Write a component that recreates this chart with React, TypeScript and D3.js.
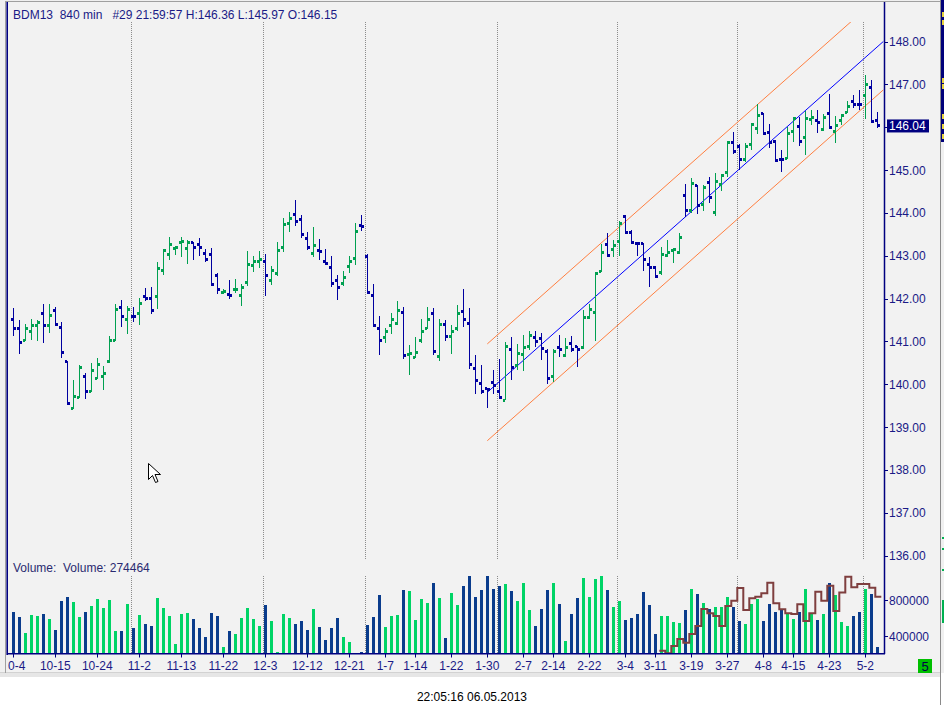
import React, { useEffect, useRef } from "react";
import * as d3 from "d3";

const width = 944;
const height = 715;

// OHLC, one bar per 840 minutes (index 0 = 10-4)
const opens = [
  141.52, 141.29, 141.03, 141.24, 141.36, 141.64, 141.38, 141.71, 141.33, 140.52,
  139.44, 139.7, 140.19, 139.84, 140.14, 140.17, 140.52, 141.03, 141.78, 141.52,
  141.59, 141.64, 142.04, 142.01, 142.04, 142.66, 143.02, 143.16, 143.3, 143.16,
  143.3, 143.27, 143.06, 143.02, 142.53, 142.15, 142.1, 142.2, 142.08, 142.37,
  142.76, 142.86, 142.86, 142.43, 142.58, 143.18, 143.74, 143.95, 143.84, 143.39,
  143.04, 143.12, 142.86, 142.72, 142.41, 142.34, 142.74, 142.93, 143.7, 142.99,
  142.06, 141.31, 141.1, 141.36, 141.41, 141.67, 140.69, 140.62, 141.01, 141.29,
  141.64, 140.64, 141.39, 141.11, 141.31, 141.69, 141.41, 140.36, 140.02, 139.89,
  140.03, 139.83, 139.63, 140.81, 140.44, 140.69, 140.88, 141.09, 141.07, 140.76,
  140.17, 140.86, 140.67, 140.96, 140.88, 140.85, 141.55, 141.67, 142.64, 143.26,
  143.14, 143.32, 143.91, 143.53, 143.29, 143.28, 142.79, 142.72, 142.6, 143.0,
  143.11, 143.08, 144.41, 144.05, 144.63, 144.19, 144.7, 144.0, 144.65, 144.93,
  145.65, 145.56, 145.25, 145.6, 145.96, 146.32, 145.88, 145.67, 145.25, 145.28,
  145.91, 146.02, 145.76, 146.19, 146.15, 145.95, 146.33, 145.91, 146.16, 146.35,
  146.59, 146.54, 146.74, 146.92, 146.15,
];
const highs = [
  141.77, 141.5, 141.41, 141.53, 141.5, 141.88, 141.88, 141.81, 141.44, 140.55,
  140.1, 140.45, 140.27, 140.49, 140.62, 140.43, 141.13, 141.86, 141.97, 141.82,
  141.81, 142.02, 142.25, 142.28, 142.86, 143.14, 143.44, 143.23, 143.44, 143.37,
  143.33, 143.41, 143.16, 143.19, 142.6, 142.23, 142.44, 142.46, 142.33, 143.12,
  142.99, 143.1, 143.03, 142.77, 143.33, 143.89, 144.02, 144.31, 143.94, 143.56,
  143.68, 143.39, 143.16, 142.99, 142.55, 142.65, 142.99, 143.77, 143.96, 143.04,
  142.33, 141.58, 141.32, 141.67, 141.93, 141.81, 140.92, 141.09, 141.53, 141.79,
  141.77, 141.53, 141.49, 141.37, 141.84, 142.23, 141.77, 140.69, 140.44, 139.91,
  140.32, 140.59, 140.98, 141.1, 140.93, 141.15, 141.25, 141.23, 141.19, 140.83,
  140.83, 141.14, 141.08, 141.13, 140.9, 141.74, 141.88, 142.6, 143.28, 143.52,
  143.37, 143.82, 143.95, 143.59, 143.31, 143.29, 142.98, 142.77, 143.21, 143.37,
  143.16, 143.53, 144.68, 144.82, 144.66, 144.66, 144.83, 144.93, 144.89, 145.65,
  145.88, 145.61, 145.63, 146.09, 146.54, 146.33, 146.08, 145.69, 145.47, 146.0,
  146.22, 146.23, 146.37, 146.39, 146.39, 146.31, 146.78, 146.27, 146.3, 146.61,
  146.75, 146.87, 147.21, 147.09, 146.36,
];
const lows = [
  141.12, 140.7, 141.0, 141.02, 141.0, 140.95, 141.19, 141.38, 140.6, 139.52,
  139.41, 139.68, 139.65, 139.82, 140.12, 139.86, 140.5, 141.01, 141.33, 141.16,
  141.44, 141.37, 141.93, 141.63, 141.75, 142.54, 142.91, 143.01, 142.96, 142.8,
  142.89, 142.99, 142.85, 142.3, 142.1, 142.1, 141.99, 142.12, 141.82, 142.3,
  142.61, 142.71, 142.05, 142.31, 142.52, 143.08, 143.56, 143.69, 143.41, 143.14,
  142.98, 142.89, 142.79, 142.26, 141.96, 142.3, 142.59, 142.79, 143.57, 142.11,
  141.34, 140.68, 140.95, 141.17, 141.38, 140.58, 140.21, 140.6, 140.97, 141.28,
  140.68, 140.54, 141.0, 140.7, 141.25, 141.33, 140.35, 139.77, 139.77, 139.45,
  139.76, 139.68, 139.62, 140.09, 140.32, 140.3, 140.79, 140.86, 140.57, 140.01,
  140.05, 140.63, 140.63, 140.75, 140.4, 140.83, 141.52, 141.0, 142.62, 142.98,
  142.98, 143.0, 143.51, 143.28, 143.0, 142.65, 142.28, 142.48, 142.56, 142.96,
  142.82, 143.04, 143.9, 143.99, 143.98, 144.05, 144.23, 143.93, 144.52, 144.83,
  145.38, 144.99, 145.18, 145.46, 145.83, 145.83, 145.52, 145.21, 144.95, 145.26,
  145.65, 145.56, 145.36, 146.06, 145.86, 145.92, 145.98, 145.63, 146.04, 146.33,
  146.44, 146.39, 146.19, 146.12, 145.97,
];
const closes = [
  141.31, 140.98, 141.31, 141.38, 141.45, 141.38, 141.61, 141.4, 140.75, 139.54,
  139.72, 140.4, 139.82, 140.33, 140.47, 140.26, 141.01, 141.75, 141.59, 141.75,
  141.57, 141.89, 142.01, 141.73, 142.69, 143.11, 143.25, 143.18, 143.32, 143.3,
  143.18, 143.2, 142.92, 142.32, 142.22, 142.17, 142.08, 142.22, 142.25, 142.79,
  142.86, 142.9, 142.53, 142.65, 143.11, 143.72, 143.86, 143.79, 143.49, 143.18,
  143.23, 143.1, 142.81, 142.34, 142.25, 142.48, 142.86, 143.56, 143.67, 142.13,
  141.36, 141.03, 141.24, 141.52, 141.71, 140.66, 140.72, 140.74, 141.22, 141.52,
  140.76, 141.39, 141.11, 141.24, 141.64, 141.5, 140.45, 140.08, 139.84, 139.87,
  139.98, 139.7, 140.88, 140.4, 140.72, 140.86, 141.14, 140.99, 140.83, 140.13,
  140.77, 140.81, 140.86, 140.81, 140.82, 141.56, 141.74, 142.58, 143.07, 143.0,
  143.24, 143.74, 143.53, 143.3, 143.28, 142.91, 142.72, 142.51, 143.02, 143.08,
  143.14, 143.42, 144.05, 144.68, 144.16, 144.59, 144.36, 144.73, 144.86, 145.64,
  145.44, 145.25, 145.56, 146.06, 146.27, 145.86, 145.64, 145.22, 145.24, 145.86,
  146.2, 145.67, 146.21, 146.22, 146.1, 146.22, 146.0, 146.05, 146.27, 146.48,
  146.53, 146.52, 146.99, 146.13, 146.04,
];

const volumes = [
  670000, 615000, 437000, 633000, 626000, 648000, 589000, 467000, 789000, 833000,
  782000, 615000, 670000, 737000, 811000, 715000, 804000, 459000, 459000, 756000,
  493000, 633000, 537000, 511000, 826000, 715000, 626000, 311000, 648000, 659000,
  593000, 493000, 393000, 659000, 626000, 281000, 459000, 426000, 604000, 715000,
  593000, 515000, 748000, 570000, 226000, 648000, 604000, 537000, 570000, 470000,
  704000, 504000, 356000, 489000, 600000, 389000, 337000, 211000, 226000, 522000,
  611000, 859000, 500000, 622000, 637000, 911000, 900000, 578000, 811000, 767000,
  989000, 822000, 378000, 878000, 744000, 959000, 1067000, 833000, 911000, 1067000,
  922000, 956000, 978000, 900000, 789000, 989000, 689000, 511000, 700000, 911000,
  989000, 756000, 344000, 644000, 822000, 1044000, 833000, 1033000, 1067000, 911000,
  722000, 789000, 578000, 600000, 644000, 889000, 744000, 422000, 622000, 622000,
  556000, 544000, 689000, 922000, 867000, 763000, 696000, 722000, 722000, 833000,
  722000, 567000, 533000, 756000, 811000, 567000, 756000, 667000, 689000, 652000,
  589000, 667000, 922000, 656000, 578000, 644000, 989000, 859000, 556000, 511000,
  622000, 667000, 922000, 867000, 278000,
];

// brown step line in the volume pane, starts at bar 108
const oiStart = 108;
const openInterest = [
  237000, 207000, 289000, 367000, 326000, 422000, 511000, 700000, 652000, 622000,
  511000, 733000, 793000, 933000, 689000, 819000, 837000, 874000, 993000, 763000,
  696000, 652000, 644000, 752000, 567000, 652000, 893000, 793000, 959000, 678000,
  882000, 1059000, 941000, 978000, 978000, 937000, 837000,
];

const dateTicks = [0, 7, 14, 21, 28, 35, 42, 49, 56, 62, 67, 73, 79, 85, 90, 96, 102, 107, 113, 119, 125, 130, 136, 142];
const dateLabels = [
  "10-4", "10-15", "10-24", "11-2", "11-13", "11-22", "12-3", "12-12", "12-21", "1-7", "1-14", "1-22",
  "1-30", "2-7", "2-14", "2-22", "3-4", "3-11", "3-19", "3-27", "4-8", "4-15", "4-23", "5-2",
];
const monthBreaks = [19, 41, 58, 80, 100, 120, 141];
const priceTicks = [136, 137, 138, 139, 140, 141, 142, 143, 144, 145, 146, 147, 148];
const volumeTicks = [400000, 800000];

// regression channel
const channelStart = 79;
const channelEnd = 145;
const channelFrom = 139.81;
const channelTo = 148.0;
const channelWidth = 1.13;

const lastPrice = 146.04;
const header = "BDM13  840 min   #29 21:59:57 H:146.36 L:145.97 O:146.15";
const volumeTitle = "Volume:  Volume: 274464";
const timestamp = "22:05:16 06.05.2013";

const font = "'Liberation Sans', Arial, sans-serif";
const navy = "#1a1a86";

export const Chart = () => {
  const ref = useRef<SVGSVGElement>(null);

  useEffect(() => {
    const svg = d3.select(ref.current);
    svg.selectAll("*").remove();

    const x = d3.scaleLinear().domain([0, 145]).range([13.3, 883.3]);
    const y = d3.scaleLinear().domain([136, 148]).range([555.5, 41.5]);
    const yv = d3.scaleLinear().domain([200000, 1100000]).range([654, 573]);

    const defs = svg.append("defs");
    defs.append("clipPath").attr("id", "priceClip")
      .append("rect").attr("x", 8).attr("y", 22).attr("width", 876).attr("height", 538);
    defs.append("clipPath").attr("id", "volClip")
      .append("rect").attr("x", 8).attr("y", 570).attr("width", 876).attr("height", 84);
    defs.append("clipPath").attr("id", "axisClip")
      .append("rect").attr("x", 8).attr("y", 654).attr("width", 880).attr("height", 20);

    // backgrounds and frame
    svg.append("rect").attr("width", width).attr("height", height).attr("fill", "#ffffff");
    svg.append("rect").attr("width", width).attr("height", 673).attr("fill", "#f0f0f0");
    svg.append("rect").attr("x", 8).attr("y", 2).attr("width", 932).attr("height", 671).attr("fill", "#f2f2f2");
    svg.append("rect").attr("x", 0).attr("y", 673).attr("width", 940).attr("height", 4).attr("fill", "#e6e6e6");
    svg.append("line").attr("x1", 0).attr("x2", 940).attr("y1", 672.5).attr("y2", 672.5)
      .attr("stroke", "#d2d2d2");
    svg.append("line").attr("x1", 5).attr("x2", 940).attr("y1", 1.5).attr("y2", 1.5)
      .attr("stroke", "#a0a0a0");
    svg.append("line").attr("x1", 5.5).attr("x2", 5.5).attr("y1", 1).attr("y2", 673)
      .attr("stroke", "#a0a0a0");
    svg.append("line").attr("x1", 7.2).attr("x2", 7.2).attr("y1", 2).attr("y2", 655)
      .attr("stroke", "#000080").attr("stroke-width", 1.6);

    // neighbour window strip on the right edge
    svg.append("line").attr("x1", 940.5).attr("x2", 940.5).attr("y1", 0).attr("y2", 705)
      .attr("stroke", "#8a8a8a");
    svg.append("rect").attr("x", 941).attr("y", 0).attr("width", 3).attr("height", 142).attr("fill", "#00007a");
    [12, 20, 78, 84, 114, 124, 134].forEach((v) =>
      svg.append("rect").attr("x", 942).attr("y", v).attr("width", 2).attr("height", 5).attr("fill", "#e6d23c")
    );
    [537, 548, 569].forEach((v) =>
      svg.append("rect").attr("x", 942).attr("y", v).attr("width", 2).attr("height", 2).attr("fill", "#00b050")
    );
    svg.append("rect").attr("x", 942).attr("y", 600).attr("width", 2).attr("height", 23).attr("fill", "#00b050");

    // month separators
    const sep = svg.append("g").attr("stroke", "#8c8c8c").attr("stroke-dasharray", "1,1");
    monthBreaks.forEach((b) => {
      const px = Math.round(x(b) + 4) + 0.5;
      sep.append("line").attr("x1", px).attr("x2", px).attr("y1", 22).attr("y2", 559);
      sep.append("line").attr("x1", px).attr("x2", px).attr("y1", 576).attr("y2", 653);
    });

    // channel lines
    const line = d3.line<[number, number]>().x((d) => x(d[0])).y((d) => y(d[1]));
    const chan = svg.append("g").attr("clip-path", "url(#priceClip)").attr("fill", "none");
    chan.append("path")
      .datum([[channelStart, channelFrom + channelWidth], [channelEnd, channelTo + channelWidth]] as [number, number][])
      .attr("d", line).attr("stroke", "#ff7f40");
    chan.append("path")
      .datum([[channelStart, channelFrom - channelWidth], [channelEnd, channelTo - channelWidth]] as [number, number][])
      .attr("d", line).attr("stroke", "#ff7f40");
    chan.append("path")
      .datum([[channelStart, channelFrom], [channelEnd, channelTo]] as [number, number][])
      .attr("d", line).attr("stroke", "#0000ff");

    // OHLC bars
    const bars = svg.append("g").attr("clip-path", "url(#priceClip)").attr("shape-rendering", "crispEdges");
    closes.forEach((c, i) => {
      const o = opens[i];
      const col = c >= o ? "#00a050" : "#0000a0";
      const cx = x(i);
      bars.append("rect").attr("x", cx - 0.8).attr("width", 1.7)
        .attr("y", y(highs[i])).attr("height", Math.max(1, y(lows[i]) - y(highs[i]))).attr("fill", col);
      bars.append("rect").attr("x", cx - 2.7).attr("width", 2.7)
        .attr("y", y(o) - 1.5).attr("height", 3).attr("fill", col);
      bars.append("rect").attr("x", cx).attr("width", 2.7)
        .attr("y", y(c) - 1.5).attr("height", 3).attr("fill", col);
    });

    // volume
    const vol = svg.append("g").attr("clip-path", "url(#volClip)").attr("shape-rendering", "crispEdges");
    volumes.forEach((v, i) => {
      vol.append("rect")
        .attr("x", x(i) - 1.5).attr("width", 3)
        .attr("y", yv(v)).attr("height", yv.range()[0] - yv(v))
        .attr("fill", closes[i] >= opens[i] ? "#00d466" : "#0a3c8c");
    });

    const oiPts: [number, number][] = [];
    openInterest.forEach((v, k) => {
      const cx = x(oiStart + k);
      oiPts.push([cx - 2, yv(v)], [cx + 4, yv(v)]);
    });
    svg.append("path")
      .datum(oiPts)
      .attr("clip-path", "url(#volClip)")
      .attr("d", d3.line().curve(d3.curveStepBefore))
      .attr("fill", "none")
      .attr("stroke", "#7f3f3f")
      .attr("stroke-width", 2);

    // right axis
    svg.append("line").attr("x1", 884.5).attr("x2", 884.5).attr("y1", 2).attr("y2", 654)
      .attr("stroke", "#000080").attr("stroke-width", 1.5);
    const ra = svg.append("g").attr("font-family", font).attr("font-size", 12).attr("fill", navy);
    priceTicks.forEach((p) => {
      ra.append("line").attr("x1", 885).attr("x2", 888).attr("y1", Math.round(y(p)) + 0.5).attr("y2", Math.round(y(p)) + 0.5)
        .attr("stroke", "#000080");
      ra.append("text").attr("x", 889).attr("y", y(p) + 4.5).text(d3.format(".2f")(p));
    });
    volumeTicks.forEach((v) => {
      ra.append("line").attr("x1", 885).attr("x2", 888).attr("y1", Math.round(yv(v)) + 0.5).attr("y2", Math.round(yv(v)) + 0.5)
        .attr("stroke", "#000080");
      ra.append("text").attr("x", 889).attr("y", yv(v) + 4.5).text(v);
    });
    svg.append("rect").attr("x", 887).attr("y", y(lastPrice) - 6).attr("width", 42).attr("height", 13)
      .attr("fill", "#000080");
    svg.append("text").attr("x", 889).attr("y", y(lastPrice) + 5).attr("font-family", font)
      .attr("font-size", 12).attr("fill", "#ffffff").text(d3.format(".2f")(lastPrice));

    // bottom axis
    svg.append("line").attr("x1", 8).attr("x2", 885).attr("y1", 653.8).attr("y2", 653.8)
      .attr("stroke", "#000080").attr("stroke-width", 1.5);
    const ba = svg.append("g").attr("clip-path", "url(#axisClip)").attr("font-family", font)
      .attr("font-size", 12).attr("fill", navy).attr("text-anchor", "middle");
    dateTicks.forEach((t, k) => {
      const px = Math.round(x(t)) + 0.5;
      ba.append("line").attr("x1", px).attr("x2", px).attr("y1", 654).attr("y2", 657.5).attr("stroke", "#000080");
      ba.append("text").attr("x", x(t)).attr("y", 670).text(dateLabels[k]);
    });

    // texts
    svg.append("text").attr("x", 13).attr("y", 19).attr("font-family", font).attr("font-size", 12)
      .attr("fill", navy).style("white-space", "pre").text(header);
    svg.append("text").attr("x", 13).attr("y", 572).attr("font-family", font).attr("font-size", 12)
      .attr("fill", "#2a2a70").style("white-space", "pre").text(volumeTitle);
    svg.append("rect").attr("x", 918).attr("y", 659).attr("width", 14).attr("height", 14).attr("fill", "#00c000");
    svg.append("text").attr("x", 925).attr("y", 671).attr("text-anchor", "middle").attr("font-family", font)
      .attr("font-size", 13).attr("fill", "#00004a").text("5");
    svg.append("text").attr("x", 472).attr("y", 701).attr("text-anchor", "middle").attr("font-family", font)
      .attr("font-size", 12).attr("fill", "#000000").text(timestamp);

    // mouse pointer left in the screenshot
    svg.append("path")
      .attr("d", "M148.5,463.5 L148.5,479.5 L152.5,475.5 L155.5,482.5 L158,481.5 L155,474.5 L160.5,474.5 Z")
      .attr("fill", "#ffffff").attr("stroke", "#000000").attr("stroke-width", 1);
  }, []);

  return <svg ref={ref} width={width} height={height} style={{ display: "block" }} />;
};

export default function App() {
  return (
    <div style={{ position: "absolute", left: 0, top: 0 }}>
      <Chart />
    </div>
  );
}
